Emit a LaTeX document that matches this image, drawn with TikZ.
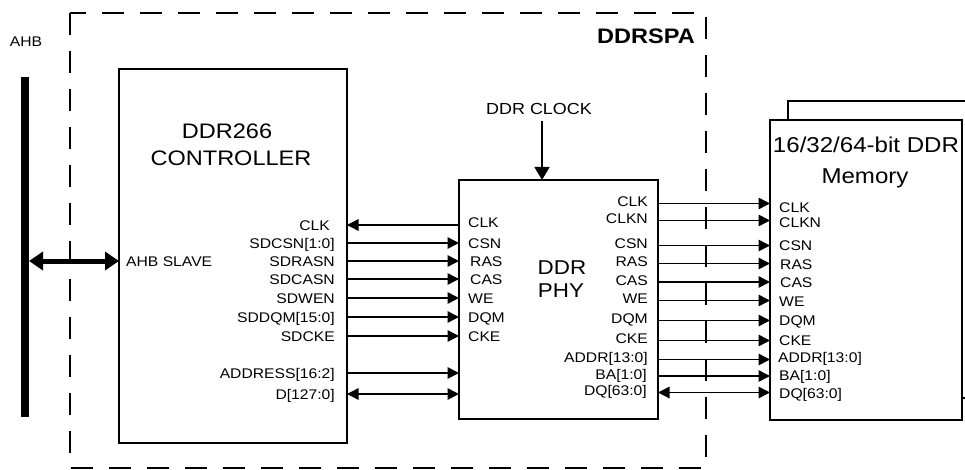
\documentclass[tikz,border=0pt]{standalone}
\usepackage{fontspec}
\setmainfont{Liberation Sans}[FakeStretch=1.12]
\usetikzlibrary{arrows.meta}

\begin{document}
\begin{tikzpicture}[x=1pt, y=-1pt,
        blk/.style={draw, line width=2.8pt, inner sep=0pt, outer sep=0pt},
        lbl/.style={inner sep=0pt, font=\fontsize{14}{16}\selectfont, text height=10pt, text depth=0pt},
        raised/.style={text height=8pt, text depth=2pt},
        ttl/.style={inner sep=0pt, anchor=base, font=\fontsize{21}{25}\selectfont},
        sig/.style={line width=1.5pt, -{Triangle[length=11.5pt, width=11.5pt]}},
        bidir/.style={line width=1.5pt, {Triangle[length=11.5pt, width=11.5pt]}-{Triangle[length=11.5pt, width=11.5pt]}}]
        \useasboundingbox (0,0) rectangle (965,470);
        \node[blk, minimum width=228pt, minimum height=374pt] (ctl) at (233,256) {};
        \node[blk, minimum width=199pt, minimum height=239pt] (phy) at (558.5,299.5) {};
        \draw[line width=2.8pt] (788,120) |- (965,101);
        \draw[line width=2.8pt] (962,398) -- (965,398);
        \node[blk, fill=white, minimum width=192pt, minimum height=300pt] (mem) at (866,270) {};
        \node[ttl] (ctlA) at (227,139) {DDR266};
        \node[ttl] (ctlB) at (231,166) {CONTROLLER};
        \node[ttl, font=\fontsize{20}{24}\selectfont] (phyA) at (562,274) {DDR};
        \node[ttl, font=\fontsize{20}{24}\selectfont] (phyB) at (561,297) {PHY};
        \node[ttl, font=\fontsize{21.5}{25}\selectfont] (memA) at (866,153) {16/32/64-bit DDR};
        \node[ttl, font=\fontsize{21.5}{25}\selectfont] (memB) at (865,184) {Memory};
        \node[inner sep=0pt, anchor=east, font=\bfseries\fontsize{21}{25}\selectfont, text height=15pt, text depth=0pt] (spa) at (695,36) {DDRSPA};
        \node[fill, inner sep=0pt, outer sep=0pt, minimum width=8pt, minimum height=340pt] (ahb) at (25,247) {};
        \node[lbl] (ahbL) at (26,42) {AHB};
        \node[lbl, anchor=west] (slave) at (126,261) {AHB SLAVE};
        \draw[line width=5pt, {Triangle[length=14pt, width=18pt]}-{Triangle[length=14pt, width=18pt]}] (ahb.east |- slave) -- (ctl.west |- slave);
        \node[lbl, font=\fontsize{16}{18}\selectfont, text height=11.5pt] (clkin) at (539,109) {DDR CLOCK};
        \draw[line width=1.5pt, -{Triangle[length=13pt, width=15pt]}] ([xshift=3pt, yshift=-6pt]clkin.south) -- ([xshift=3pt]clkin.south |- phy.north);
        \node[lbl, anchor=east] (cclk) at (330,225) {CLK};
        \node[lbl, anchor=east] (ccsn) at (335,243) {SDCSN[1:0]};
        \node[lbl, anchor=east] (cras) at (335,261) {SDRASN};
        \node[lbl, anchor=east] (ccas) at (335,279) {SDCASN};
        \node[lbl, anchor=east] (cwe) at (335,298) {SDWEN};
        \node[lbl, anchor=east] (cdqm) at (335,317) {SDDQM[15:0]};
        \node[lbl, anchor=east] (ccke) at (335,336) {SDCKE};
        \node[lbl, anchor=east] (caddr) at (335,373) {ADDRESS[16:2]};
        \node[lbl, anchor=east] (cd) at (335,394) {D[127:0]};
        \node[lbl, anchor=west, raised] (pclk) at (468,225) {CLK};
        \node[lbl, anchor=west] (pcsn) at (468,243) {CSN};
        \node[lbl, anchor=west] (pras) at (470,261) {RAS};
        \node[lbl, anchor=west] (pcas) at (470,279) {CAS};
        \node[lbl, anchor=west] (pwe) at (468,298) {WE};
        \node[lbl, anchor=west] (pdqm) at (468,317) {DQM};
        \node[lbl, anchor=west] (pcke) at (468,336) {CKE};
        \draw[sig] (phy.west |- pclk) -- (ctl.east |- cclk);
        \draw[sig] (ctl.east |- ccsn) -- (phy.west |- pcsn);
        \draw[sig] (ctl.east |- cras) -- (phy.west |- pras);
        \draw[sig] (ctl.east |- ccas) -- (phy.west |- pcas);
        \draw[sig] (ctl.east |- cwe) -- (phy.west |- pwe);
        \draw[sig] (ctl.east |- cdqm) -- (phy.west |- pdqm);
        \draw[sig] (ctl.east |- ccke) -- (phy.west |- pcke);
        \draw[sig] (ctl.east |- caddr) -- (phy.west |- caddr);
        \draw[bidir] (ctl.east |- cd) -- (phy.west |- cd);
        \node[lbl, anchor=east, raised] (oclk) at (648,203.5) {CLK};
        \node[lbl, anchor=east, raised] (oclkn) at (648,220.5) {CLKN};
        \node[lbl, anchor=east, raised] (ocsn) at (648,245.5) {CSN};
        \node[lbl, anchor=east, raised] (oras) at (648,263.5) {RAS};
        \node[lbl, anchor=east, raised] (ocas) at (648,282) {CAS};
        \node[lbl, anchor=east, raised] (owe) at (648,300.5) {WE};
        \node[lbl, anchor=east, raised] (odqm) at (648,320.5) {DQM};
        \node[lbl, anchor=east, raised] (ocke) at (648,340.5) {CKE};
        \node[lbl, anchor=east, raised] (oaddr) at (648,359.5) {ADDR[13:0]};
        \node[lbl, anchor=east, raised] (oba) at (647,376) {BA[1:0]};
        \node[lbl, anchor=east, raised] (odq) at (647,392.5) {DQ[63:0]};
        \node[lbl, anchor=west] (mclk) at (779,207) {CLK};
        \node[lbl, anchor=west] (mclkn) at (779,222) {CLKN};
        \node[lbl, anchor=west] (mcsn) at (779,245) {CSN};
        \node[lbl, anchor=west] (mras) at (780,264) {RAS};
        \node[lbl, anchor=west] (mcas) at (780,282) {CAS};
        \node[lbl, anchor=west] (mwe) at (779,301) {WE};
        \node[lbl, anchor=west] (mdqm) at (779,320) {DQM};
        \node[lbl, anchor=west] (mcke) at (779,340) {CKE};
        \node[lbl, anchor=west] (maddr) at (778,357) {ADDR[13:0]};
        \node[lbl, anchor=west] (mba) at (779,375) {BA[1:0]};
        \node[lbl, anchor=west] (mdq) at (779,393) {DQ[63:0]};
        \draw[sig] (phy.east |- oclk) -- (mem.west |- oclk);
        \draw[sig] (phy.east |- oclkn) -- (mem.west |- oclkn);
        \draw[sig] (phy.east |- ocsn) -- (mem.west |- ocsn);
        \draw[sig] (phy.east |- oras) -- (mem.west |- oras);
        \draw[sig] (phy.east |- ocas) -- (mem.west |- ocas);
        \draw[sig] (phy.east |- owe) -- (mem.west |- owe);
        \draw[sig] (phy.east |- odqm) -- (mem.west |- odqm);
        \draw[sig] (phy.east |- ocke) -- (mem.west |- ocke);
        \draw[sig] (phy.east |- oaddr) -- (mem.west |- oaddr);
        \draw[sig] (phy.east |- oba) -- (mem.west |- oba);
        \draw[bidir] (phy.east |- odq) -- (mem.west |- odq);
        \draw[line width=2pt, dash pattern=on 22pt off 16pt] (70,13) rectangle (706,468);
      \end{tikzpicture}
\end{document}
